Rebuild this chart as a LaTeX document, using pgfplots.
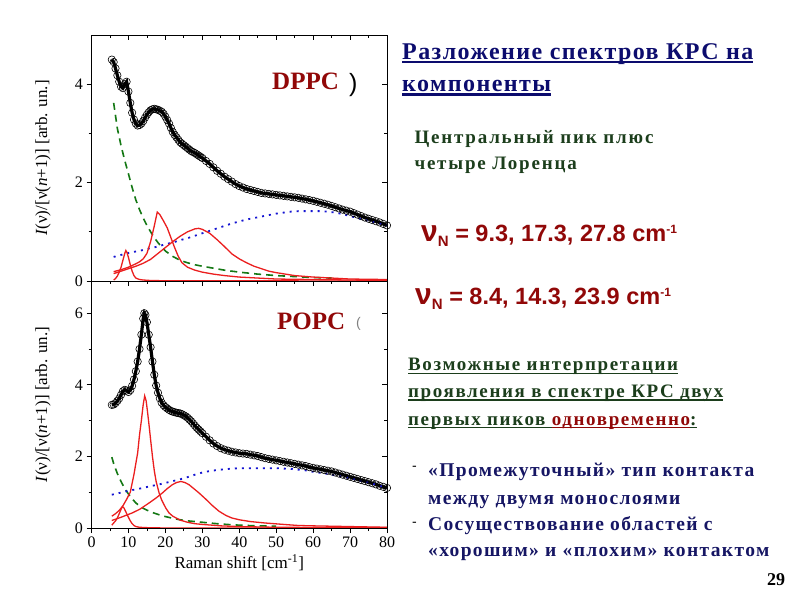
\documentclass[border=0pt]{standalone}
\usepackage{fontspec}
\setmainfont{Liberation Serif}
\newfontfamily\arial{Liberation Sans}
\usepackage{pgfplots}
\pgfplotsset{compat=1.18}
\definecolor{navy}{RGB}{12,12,110}
\definecolor{dgreen}{RGB}{28,62,28}
\definecolor{dred}{RGB}{145,8,8}
\definecolor{bnavy}{RGB}{22,22,100}
\definecolor{fitred}{RGB}{235,30,30}
\definecolor{fitgreen}{RGB}{20,120,20}
\definecolor{fitblue}{RGB}{20,20,210}
\newcommand\ul[3]{\setbox0\hbox{#3}\rlap{\rule[-#1]{\wd0}{#2}}\box0}
\newcommand\fs[1]{\fontsize{#1}{#1}\selectfont}
\newcommand\ls[1]{\addfontfeatures{LetterSpace=#1}}

\pgfplotsset{
  panel/.style={scale only axis, width=295.5pt, xmin=0, xmax=80,
    xtick={0,10,...,80}, minor x tick num=1, minor y tick num=1,
    major tick length=5pt, minor tick length=3pt,
    every tick/.style={black, line width=0.8pt},
    axis line style={line width=0.9pt},
    tick label style={font=\fs{16}},
    /pgf/number format/assume math mode=true,
    clip=true},
  mainax/.style={panel, tick align=outside, xtick pos=bottom, ytick pos=left},
  mirror/.style={panel, tick align=inside, xtick pos=top, ytick pos=right,
    xticklabels={}, yticklabels={}},
  expt/.style={only marks, mark=o, mark size=3.7pt, mark options={black, line width=0.6pt, fill=white}},
  fitline/.style={black, line width=3.2pt},
  lor/.style={fitred, line width=1.3pt},
  cen/.style={fitgreen, line width=1.6pt, dash pattern=on 7pt off 5pt},
  bro/.style={fitblue, line width=1.8pt, dash pattern=on 2pt off 5pt},
}

\pgfplotstableread{
x y
5.5 4.50
6 4.45
6.5 4.32
7 4.18
7.5 4.05
8 3.95
8.5 3.92
9 4.00
9.5 4.05
10 3.85
10.5 3.62
11 3.42
11.5 3.28
12 3.20
12.5 3.16
13 3.17
13.5 3.20
14 3.25
14.5 3.32
15 3.38
15.5 3.43
16 3.47
16.5 3.49
17 3.50
17.5 3.49
18 3.48
18.5 3.46
19 3.44
19.5 3.40
20 3.34
20.5 3.27
21 3.20
21.5 3.11
22 3.03
22.5 2.97
23 2.92
23.5 2.87
24 2.82
24.5 2.79
25 2.76
25.5 2.73
26 2.70
26.5 2.67
27 2.64
27.5 2.62
28 2.60
28.5 2.575
29 2.55
29.5 2.525
30 2.50
31 2.44
32 2.38
33 2.31
34 2.24
35 2.18
36 2.12
37 2.07
38 2.02
39 1.97
40 1.93
41 1.90
42 1.87
43 1.85
44 1.83
45 1.81
46 1.79
47 1.78
48 1.77
49 1.76
50 1.75
51 1.74
52 1.73
53 1.72
54 1.71
55 1.70
56 1.69
57 1.675
58 1.66
59 1.645
60 1.63
61 1.61
62 1.59
63 1.57
64 1.55
65 1.525
66 1.50
67 1.475
68 1.45
69 1.43
70 1.41
71 1.38
72 1.35
73 1.32
74 1.29
75 1.265
76 1.24
77 1.215
78 1.19
79 1.16
80 1.13
}\dppc

\pgfplotstableread{
x y
6 3.62
7 3.10
8 2.75
9 2.45
10 2.18
11 1.90
12 1.65
13 1.45
14 1.28
15 1.13
16 1.00
17 0.88
18 0.78
19 0.69
20 0.61
22 0.50
24 0.42
26 0.37
28 0.33
30 0.30
33 0.26
36 0.22
40 0.18
45 0.14
50 0.11
55 0.09
60 0.07
65 0.06
}\dppccen

\pgfplotstableread{
x y
6 0.49
8 0.53
10 0.57
12 0.60
14 0.63
16 0.67
18 0.70
20 0.75
22 0.78
24 0.83
26 0.87
28 0.92
30 0.97
32 1.02
34 1.07
36 1.12
38 1.17
40 1.21
42 1.25
44 1.28
46 1.31
48 1.34
50 1.37
52 1.39
54 1.41
56 1.42
58 1.42
60 1.42
62 1.42
64 1.41
66 1.39
68 1.36
70 1.32
72 1.28
74 1.24
76 1.20
78 1.17
80 1.13
}\dppcbro

\pgfplotstableread{
x y
6 0.02
6.5 0.05
7 0.10
7.5 0.18
8 0.28
8.5 0.42
9 0.56
9.3 0.62
9.6 0.58
10 0.48
10.5 0.33
11 0.20
11.5 0.11
12 0.06
13 0.03
14 0.02
16 0.01
20 0.005
80 0.0
}\dppcla

\pgfplotstableread{
x y
6 0.19
8 0.23
10 0.28
12 0.35
13 0.39
14 0.45
15 0.56
16 0.80
17 1.12
17.8 1.40
18.5 1.35
19.5 1.22
20.5 1.08
21.5 0.88
22.5 0.68
23.5 0.50
24.5 0.37
26 0.28
28 0.22
30 0.18
33 0.14
36 0.11
40 0.08
45 0.06
50 0.04
60 0.03
80 0.01
}\dppclb

\pgfplotstableread{
x y
6 0.15
8 0.20
10 0.25
12 0.30
14 0.36
16 0.44
18 0.56
20 0.68
22 0.80
24 0.91
26 1.00
28 1.06
29 1.07
30 1.05
32 0.97
34 0.84
36 0.70
38 0.55
40 0.45
42 0.37
44 0.30
46 0.25
48 0.20
50 0.17
55 0.11
60 0.08
65 0.06
70 0.04
80 0.03
}\dppclc

\pgfplotstableread{
x y
5.5 3.44
6 3.45
6.5 3.49
7 3.55
7.5 3.62
8 3.72
8.5 3.82
9 3.86
9.5 3.84
10 3.80
10.5 3.85
11 3.97
11.5 4.15
12 4.38
12.5 4.65
13 5.00
13.5 5.40
14 5.85
14.3 6.00
14.6 5.95
15 5.75
15.5 5.40
16 5.05
16.5 4.65
17 4.28
17.5 3.98
18 3.78
18.5 3.62
19 3.50
19.5 3.43
20 3.38
20.5 3.34
21 3.30
21.5 3.27
22 3.25
22.5 3.235
23 3.22
23.5 3.21
24 3.20
24.5 3.18
25 3.15
25.5 3.12
26 3.08
26.5 3.03
27 2.98
27.5 2.92
28 2.86
28.5 2.80
29 2.75
29.5 2.70
30 2.65
31 2.55
32 2.45
33 2.36
34 2.29
35 2.23
36 2.19
37 2.16
38 2.13
39 2.11
40 2.09
41 2.08
42 2.07
43 2.05
44 2.03
45 2.01
46 1.98
47 1.95
48 1.93
49 1.91
50 1.89
51 1.87
52 1.85
53 1.83
54 1.81
55 1.79
56 1.77
57 1.75
58 1.73
59 1.70
60 1.68
61 1.66
62 1.64
63 1.62
64 1.60
65 1.58
66 1.55
67 1.52
68 1.49
69 1.46
70 1.43
71 1.40
72 1.37
73 1.34
74 1.31
75 1.28
76 1.25
77 1.22
78 1.18
79 1.15
80 1.12
}\popc

\pgfplotstableread{
x y
5.5 1.98
6 1.80
7 1.52
8 1.30
9 1.10
10 0.95
11 0.82
12 0.70
13 0.62
14 0.55
15 0.50
16 0.45
18 0.38
20 0.32
22 0.27
24 0.23
26 0.20
28 0.18
30 0.16
34 0.12
38 0.09
42 0.07
46 0.06
50 0.05
}\popccen

\pgfplotstableread{
x y
5.5 0.93
8 0.99
10 1.04
12 1.08
14 1.12
16 1.17
18 1.21
20 1.26
22 1.31
24 1.36
26 1.42
28 1.49
30 1.55
32 1.59
34 1.62
36 1.64
38 1.66
40 1.67
42 1.67
44 1.67
46 1.67
48 1.67
50 1.67
52 1.66
54 1.65
56 1.63
58 1.61
60 1.57
62 1.54
64 1.51
66 1.47
68 1.43
70 1.39
72 1.34
74 1.29
76 1.24
78 1.18
80 1.12
}\popcbro

\pgfplotstableread{
x y
5.5 0.08
6 0.14
6.5 0.20
7 0.28
7.5 0.40
8 0.52
8.4 0.60
8.8 0.56
9.3 0.45
10 0.30
10.5 0.20
11 0.12
11.5 0.07
12 0.04
13 0.02
15 0.01
20 0.0
80 0.0
}\popcla

\pgfplotstableread{
x y
5.5 0.33
6.5 0.40
7.5 0.49
8.5 0.62
9.5 0.80
10.5 1.00
11.5 1.50
12 1.80
12.5 2.10
13 2.60
13.5 3.00
14 3.45
14.4 3.69
14.8 3.55
15.1 3.30
15.5 2.95
16 2.47
16.5 2.00
17 1.60
17.5 1.30
18.3 0.98
19 0.78
20.1 0.56
21 0.42
22 0.33
24 0.22
26 0.16
28 0.12
30 0.10
35 0.06
40 0.04
50 0.02
60 0.015
80 0.01
}\popclb

\pgfplotstableread{
x y
5.5 0.21
8 0.30
11 0.42
13 0.52
15.6 0.70
17.5 0.84
19.2 0.98
20.5 1.10
21.9 1.21
23 1.27
24.2 1.30
25.3 1.27
26.4 1.21
27.7 1.10
29.1 0.98
31 0.80
32.8 0.62
34.5 0.47
36.4 0.35
38 0.28
40 0.23
43 0.18
47 0.14
52 0.10
56 0.07
60 0.06
65 0.05
70 0.04
80 0.02
}\popclc

\begin{document}
\begin{tikzpicture}[x=1pt,y=1pt]
\path[fill=white] (0pt,0pt) rectangle (800pt,600pt);

% ---------- top panel: DPPC ----------
\begin{axis}[mainax, at={(91.5pt,319pt)}, anchor=south west, height=246pt,
  ymin=0, ymax=5, ytick={0,2,4}, xticklabels={},
  ylabel={\fs{17}\textit{I}(ν)/[ν(\textit{n}+1)] [arb. un.]},
  ylabel style={at={(axis description cs:-0.164,0.5)}, anchor=center}]
\addplot[expt] table {\dppc};
\addplot[fitline] table {\dppc};
\addplot[cen] table {\dppccen};
\addplot[bro] table {\dppcbro};
\addplot[lor] table {\dppcla};
\addplot[lor] table {\dppclb};
\addplot[lor] table {\dppclc};
\end{axis}
\begin{axis}[mirror, at={(91.5pt,319pt)}, anchor=south west, height=246pt,
  ymin=0, ymax=5, ytick={0,2,4}]
\end{axis}

% ---------- bottom panel: POPC ----------
\begin{axis}[mainax, at={(91.5pt,72pt)}, anchor=south west, height=247pt,
  ymin=0, ymax=6.9, ytick={0,2,4,6},
  xlabel={\fs{17}Raman shift [cm\textsuperscript{-1}]},
  ylabel={\fs{17}\textit{I}(ν)/[ν(\textit{n}+1)] [arb. un.]},
  ylabel style={at={(axis description cs:-0.164,0.5)}, anchor=center}]
\addplot[expt] table {\popc};
\addplot[fitline] table {\popc};
\addplot[cen] table {\popccen};
\addplot[bro] table {\popcbro};
\addplot[lor] table {\popcla};
\addplot[lor] table {\popclb};
\addplot[lor] table {\popclc};
\end{axis}
\begin{axis}[mirror, at={(91.5pt,72pt)}, anchor=south west, height=247pt,
  ymin=0, ymax=6.9, ytick={0,2,4,6}]
\end{axis}

% panel labels
\node[anchor=base west, inner sep=0, text=dred, font=\fs{25}\bfseries] at (272pt,510pt) {DPPC};
\node[anchor=base west, inner sep=0, font=\arial\fs{25}] at (349pt,508pt) {)};
\node[anchor=base west, inner sep=0, text=dred, font=\fs{25}\bfseries] at (277pt,270pt) {POPC};
\node[anchor=base west, inner sep=0, text=gray, font=\arial\fs{14}] at (356pt,272pt) {(};

% right-hand text
\begin{scope}[every node/.style={anchor=base west, inner sep=0}]
\node[text=navy, font=\fs{24}\bfseries\ls{6}] at (402pt,540pt) {\ul{3pt}{2.2pt}{Разложение спектров КРС на}};
\node[text=navy, font=\fs{24}\bfseries\ls{6}] at (402pt,508.3pt) {\ul{4pt}{2.2pt}{компоненты}};
\node[text=dgreen, font=\fs{19}\bfseries\ls{9.5}] at (414.3pt,456pt) {Центральный пик плюс};
\node[text=dgreen, font=\fs{19}\bfseries\ls{9.5}] at (414.3pt,430pt) {четыре Лоренца};
\node[text=dred, font=\arial\bfseries\fs{23.5}] at (421pt,358.3pt) {{\fs{30}ν}\raisebox{-5pt}{\fs{15}N} = 9.3, 17.3, 27.8 cm\raisebox{8pt}{\fs{12}-1}};
\node[text=dred, font=\arial\bfseries\fs{23.5}] at (415pt,295pt) {{\fs{30}ν}\raisebox{-5pt}{\fs{15}N} = 8.4, 14.3, 23.9 cm\raisebox{8pt}{\fs{12}-1}};
\node[text=dgreen, font=\fs{19}\bfseries\ls{8.5}] at (408pt,229.3pt) {\ul{3.3pt}{1.4pt}{Возможные интерпретации}};
\node[text=dgreen, font=\fs{19}\bfseries\ls{8.5}] at (408pt,202.7pt) {\ul{3.3pt}{1.4pt}{проявления в спектре КРС двух}};
\node[text=dgreen, font=\fs{19}\bfseries\ls{8.5}] at (408pt,175pt) {\ul{3.3pt}{1.4pt}{первых пиков }\textcolor{dred}{\ul{3.3pt}{1.4pt}{одновременно}}\ul{3.3pt}{1.4pt}{:}};
\node[text=black, font=\arial\fs{14}] at (412pt,130pt) {-};
\node[text=black, font=\arial\fs{14}] at (412pt,74pt) {-};
\node[text=bnavy, font=\fs{19.5}\bfseries\ls{7}] at (428pt,123.3pt) {«Промежуточный» тип контакта};
\node[text=bnavy, font=\fs{19.5}\bfseries\ls{7}] at (428pt,96pt) {между двумя монослоями};
\node[text=bnavy, font=\fs{19.5}\bfseries\ls{7}] at (428pt,70pt) {Сосуществование областей с};
\node[text=bnavy, font=\fs{19.5}\bfseries\ls{7}] at (428pt,43.3pt) {«хорошим» и «плохим» контактом};
\node[text=black, font=\fs{18}\bfseries] at (767pt,15pt) {29};
\end{scope}
\end{tikzpicture}
\end{document}
